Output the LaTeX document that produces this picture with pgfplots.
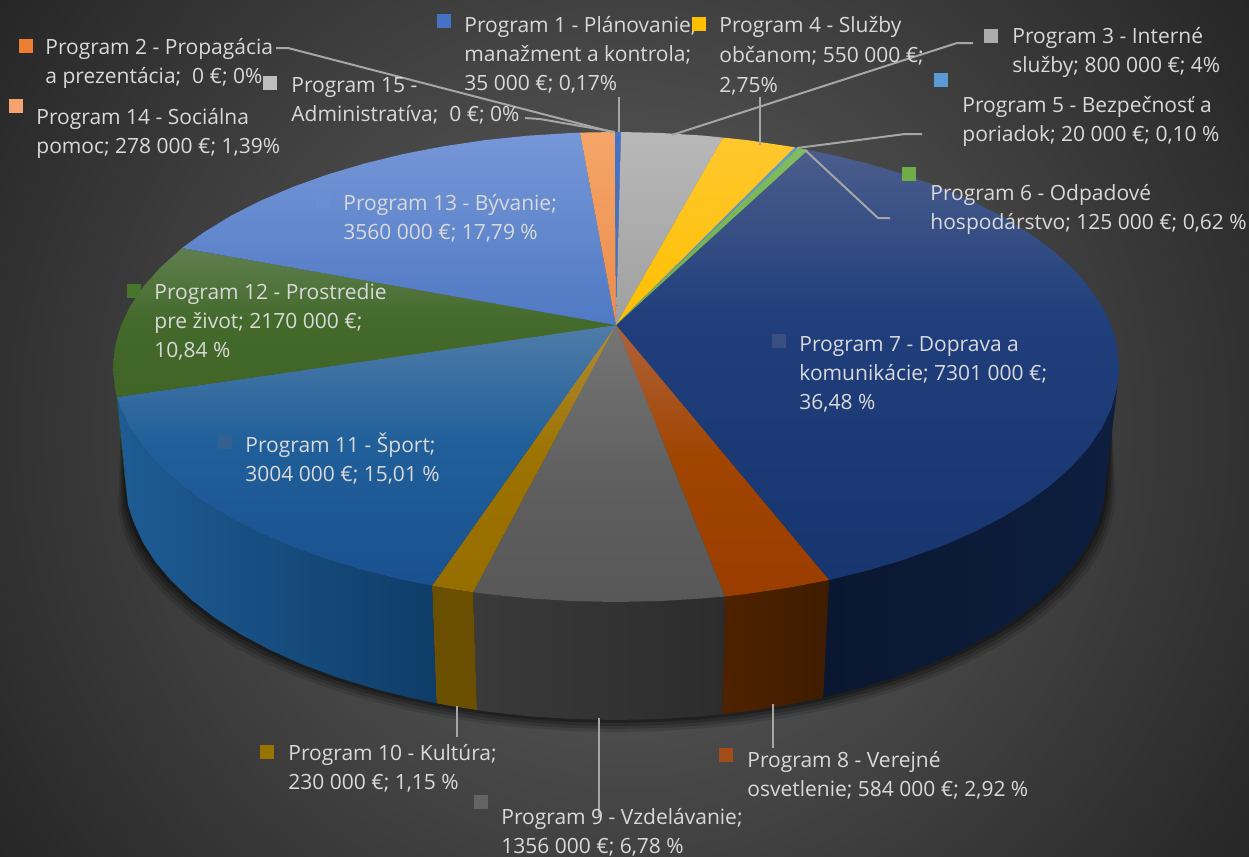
\documentclass[border=0pt]{standalone}
\usepackage{pgfplots}
\usepackage{pgfplotstable}
\usepackage{fontspec}
\setmainfont{Open Sans}
\pgfplotsset{compat=1.18}
\definecolor{bgin}{HTML}{646464}
\definecolor{bgout}{HTML}{262626}
\pgfdeclareradialshading{bgshade}{\pgfpoint{0bp}{0bp}}{color(0bp)=(bgin); color(25bp)=(bgout); color(50bp)=(bgout)}
\definecolor{HTMLp12side}{HTML}{2F4F1F}
\definecolor{HTMLp7sa}{HTML}{0A1730}
\definecolor{HTMLp7sb}{HTML}{0D1E3F}
\definecolor{HTMLp8sa}{HTML}{4E2200}
\definecolor{HTMLp8sb}{HTML}{3F1C00}
\definecolor{HTMLp9sa}{HTML}{3A3A3A}
\definecolor{HTMLp9sb}{HTML}{2C2C2C}
\definecolor{HTMLp10s}{HTML}{6B4F00}
\definecolor{HTMLp11sa}{HTML}{1E5C94}
\definecolor{HTMLp11sb}{HTML}{133F6C}
\definecolor{HTMLp11sc}{HTML}{0F3D69}
\definecolor{HTMLp7a}{HTML}{4B5D8C}
\definecolor{HTMLp7b}{HTML}{1F3E7B}
\definecolor{HTMLp7c}{HTML}{17356F}
\pgfdeclareverticalshading{sp7}{100bp}{color(0bp)=(HTMLp7c); color(25bp)=(HTMLp7c); color(55bp)=(HTMLp7b); color(75bp)=(HTMLp7a); color(100bp)=(HTMLp7a)}
\definecolor{HTMLp8a}{HTML}{B0623A}
\definecolor{HTMLp8m}{HTML}{A04400}
\definecolor{HTMLp8b}{HTML}{9A3D00}
\pgfdeclareverticalshading{sp8}{100bp}{color(0bp)=(HTMLp8b); color(25bp)=(HTMLp8b); color(50bp)=(HTMLp8m); color(75bp)=(HTMLp8a); color(100bp)=(HTMLp8a)}
\definecolor{HTMLp9a}{HTML}{757575}
\definecolor{HTMLp9m}{HTML}{5E5E5E}
\definecolor{HTMLp9b}{HTML}{585858}
\pgfdeclareverticalshading{sp9}{100bp}{color(0bp)=(HTMLp9b); color(25bp)=(HTMLp9b); color(45bp)=(HTMLp9m); color(75bp)=(HTMLp9a); color(100bp)=(HTMLp9a)}
\definecolor{HTMLp10a}{HTML}{B08C38}
\definecolor{HTMLp10m}{HTML}{9C7200}
\definecolor{HTMLp10b}{HTML}{966E00}
\pgfdeclareverticalshading{sp10}{100bp}{color(0bp)=(HTMLp10b); color(25bp)=(HTMLp10b); color(50bp)=(HTMLp10m); color(75bp)=(HTMLp10a); color(100bp)=(HTMLp10a)}
\definecolor{HTMLp11a}{HTML}{4F7CA8}
\definecolor{HTMLp11b}{HTML}{205F9A}
\definecolor{HTMLp11c}{HTML}{19518F}
\pgfdeclareverticalshading{sp11}{100bp}{color(0bp)=(HTMLp11c); color(25bp)=(HTMLp11c); color(52bp)=(HTMLp11b); color(75bp)=(HTMLp11a); color(100bp)=(HTMLp11a)}
\definecolor{HTMLp12a}{HTML}{5F7F4F}
\definecolor{HTMLp12m}{HTML}{43692B}
\definecolor{HTMLp12b}{HTML}{406526}
\pgfdeclareverticalshading{sp12}{100bp}{color(0bp)=(HTMLp12b); color(25bp)=(HTMLp12b); color(50bp)=(HTMLp12m); color(75bp)=(HTMLp12a); color(100bp)=(HTMLp12a)}
\definecolor{HTMLp13a}{HTML}{7697D8}
\definecolor{HTMLp13b}{HTML}{4F79C3}
\definecolor{HTMLp14a}{HTML}{F4A668}
\definecolor{HTMLp14b}{HTML}{ED8C4C}
\definecolor{HTMLp1}{HTML}{4472C4}
\definecolor{HTMLp3a}{HTML}{B8B8B8}
\definecolor{HTMLp3b}{HTML}{A0A0A0}
\definecolor{HTMLp4a}{HTML}{FFC72E}
\definecolor{HTMLp4b}{HTML}{FFC000}
\definecolor{HTMLp5}{HTML}{5B9BD5}
\definecolor{HTMLp6a}{HTML}{82BB62}
\definecolor{HTMLp6b}{HTML}{70AD47}
\definecolor{HTMLkp2}{HTML}{ED7D31}
\definecolor{HTMLkp15}{HTML}{BDBDBD}
\definecolor{HTMLkp14}{HTML}{F4A56F}
\definecolor{HTMLkp4}{HTML}{FFC000}
\definecolor{HTMLkp3}{HTML}{ACACAC}
\definecolor{HTMLkp5}{HTML}{5B9BD5}
\definecolor{HTMLkp6}{HTML}{70AD47}
\definecolor{HTMLkp13}{HTML}{6A90D4}
\definecolor{HTMLkp12}{HTML}{47752E}
\definecolor{HTMLkp7}{HTML}{3A4F80}
\definecolor{HTMLkp11}{HTML}{33608F}
\definecolor{HTMLkp10}{HTML}{997300}
\definecolor{HTMLkp9}{HTML}{636363}
\definecolor{HTMLkp8}{HTML}{A34C18}
\pgfplotstableread{
x y w
1112 430 0
1106 480 1
1104.1 500.9 1
1098.6 521.7 1
1089.3 542.1 1
1076.5 562.1 1
1060.1 581.4 1
1040.3 600 1
1017.4 617.7 1
991.4 634.3 1
962.5 649.7 1
931 663.9 1
897 676.6 1
861 687.8 1
823.1 697.5 1
783.6 705.5 1
742.8 711.8 1
701.1 716.4 1
658.7 719.1 1
616 720 1
573.3 719.1 1
530.9 716.4 1
489.2 711.8 1
448.4 705.5 1
408.9 697.5 1
371 687.8 1
335 676.6 1
301 663.9 1
269.5 649.7 1
240.6 634.3 1
214.6 617.7 1
191.7 600 1
171.9 581.4 1
155.5 562.1 1
142.7 542.1 1
133.4 521.7 1
127.9 500.9 1
120.5 430 0
}\rimtable
\newcommand{\shadowlayer}[3]{\addplot[draw=none,fill=black,fill opacity=#3] table[x expr=\thisrow{x}+(\thisrow{x}-616)*#1*\thisrow{w},y expr=\thisrow{y}+#2*\thisrow{w}]{\rimtable} -- cycle;}
\newcommand{\lab}[3]{\node[anchor=base west,inner sep=0pt,text=labc,font=\fontsize{10.5}{12}\selectfont] at (axis cs:#1,#2) {#3};}
\newcommand{\key}[3]{\addplot[only marks,mark=square*,mark size=3.3pt,color=#3] coordinates {(#1,#2)};}
\definecolor{labc}{HTML}{D9D9D9}
\definecolor{linec}{HTML}{A6A6A6}
\begin{document}
\begin{tikzpicture}
\path[use as bounding box,clip] (0,0) rectangle (624.5pt,428.5pt);
\begin{axis}[at={(0,0)},anchor=south west,scale only axis,width=624.5pt,height=428.5pt,
  xmin=0,xmax=1249,ymin=0,ymax=857,y dir=reverse,hide axis,clip=false]
% background
\addplot[draw=none,shading=bgshade] coordinates {(-132.5,-328.5)(1381.5,-328.5)(1381.5,1185.5)(-132.5,1185.5)(-132.5,-328.5)};
% shadow
\shadowlayer{0.020}{12}{.12}
\shadowlayer{0.015}{9}{.16}
\shadowlayer{0.010}{6}{.20}
\shadowlayer{0.005}{3}{.25}
% sides
\addplot[draw=none,fill=HTMLp12side] coordinates {(117,397)(114.5,380)(126,490)(128,505)(117,397)};
\addplot[draw=none,left color=HTMLp7sa,right color=HTMLp7sb] coordinates {(1118,383)(1117.1,387.5)(1111.4,407.8)(1101.9,427.8)(1088.7,447.4)(1071.9,466.3)(1051.6,484.5)(1028,501.8)(1001.3,518.1)(971.7,533.2)(939.3,547)(904.5,559.5)(867.5,570.5)(829,580)(823.1,697.5)(861,687.8)(897,676.6)(931,663.9)(962.5,649.7)(991.4,634.3)(1017.4,617.7)(1040.3,600)(1060.1,581.4)(1076.5,562.1)(1089.3,542.1)(1098.6,521.7)(1104.1,500.9)(1106,480)(1118,383)};
\addplot[draw=none,left color=HTMLp8sa,right color=HTMLp8sb] coordinates {(829,580)(788,587.8)(746.2,594)(725,596.5)(722,714)(742.8,711.8)(783.6,705.5)(823.1,697.5)(829,580)};
\addplot[draw=none,left color=HTMLp9sa,right color=HTMLp9sb] coordinates {(725,596.5)(703.3,598.4)(659.8,601.1)(616,602)(572.2,601.1)(528.7,598.4)(485.8,594)(473,592.3)(477,710)(489.2,711.8)(530.9,716.4)(573.3,719.1)(616,720)(658.7,719.1)(701.1,716.4)(722,714)(725,596.5)};
\addplot[draw=none,fill=HTMLp10s] coordinates {(473,592.3)(444,587.8)(432,585.7)(436.4,703.2)(448.4,705.5)(477,710)(473,592.3)};
\addplot[draw=none,left color=HTMLp11sa,middle color=HTMLp11sb,right color=HTMLp11sc] coordinates {(432,585.7)(403.4,580)(364.5,570.5)(327.5,559.5)(292.7,547)(260.3,533.2)(230.7,518.1)(204,501.8)(180.4,484.5)(160.1,466.3)(143.3,447.4)(130.1,427.8)(120.6,407.8)(117,397)(128,505)(133.4,521.7)(142.7,542.1)(155.5,562.1)(171.9,581.4)(191.7,600)(214.6,617.7)(240.6,634.3)(269.5,649.7)(301,663.9)(335,676.6)(371,687.8)(408.9,697.5)(436.4,703.2)(432,585.7)};
% top
\addplot[draw=none,shading=sp7] coordinates {(616,325)(808,150)(828.6,154)(867.5,163.5)(904.5,174.5)(939.3,187)(971.7,200.8)(1001.3,215.9)(1028,232.2)(1051.6,249.5)(1071.9,267.7)(1088.7,286.6)(1101.9,306.2)(1111.4,326.2)(1117.1,346.5)(1119,367)(1117.1,387.5)(1111.4,407.8)(1101.9,427.8)(1088.7,447.4)(1071.9,466.3)(1051.6,484.5)(1028,501.8)(1001.3,518.1)(971.7,533.2)(939.3,547)(904.5,559.5)(867.5,570.5)(829,580)(616,325)};
\addplot[draw=none,shading=sp8] coordinates {(616,325)(829,580)(788,587.8)(746.2,594)(725,596.5)(616,325)};
\addplot[draw=none,shading=sp9] coordinates {(616,325)(725,596.5)(703.3,598.4)(659.8,601.1)(616,602)(572.2,601.1)(528.7,598.4)(485.8,594)(473,592.3)(616,325)};
\addplot[draw=none,shading=sp10] coordinates {(616,325)(473,592.3)(444,587.8)(432,585.7)(616,325)};
\addplot[draw=none,shading=sp11] coordinates {(616,325)(432,585.7)(403.4,580)(364.5,570.5)(327.5,559.5)(292.7,547)(260.3,533.2)(230.7,518.1)(204,501.8)(180.4,484.5)(160.1,466.3)(143.3,447.4)(130.1,427.8)(120.6,407.8)(117,397)(616,325)};
\addplot[draw=none,shading=sp12] coordinates {(616,325)(117,397)(114.9,387.5)(113,367)(114.9,346.5)(120.6,326.2)(130.1,306.2)(143.3,286.6)(160.1,267.7)(182,248)(616,325)};
\addplot[draw=none,top color=HTMLp13a,bottom color=HTMLp13b] coordinates {(616,325)(182,248)(204,232.2)(230.7,215.9)(260.3,200.8)(292.7,187)(327.5,174.5)(364.5,163.5)(403.4,154)(444,146.2)(485.8,140)(528.7,135.6)(572.2,132.9)(580,132.6)(616,325)};
\addplot[draw=none,top color=HTMLp14a,bottom color=HTMLp14b] coordinates {(616,325)(580,132.6)(615,132)(616,325)};
\addplot[draw=none,fill=HTMLp1] coordinates {(616,325)(615,132)(621,132)(616,325)};
\addplot[draw=none,top color=HTMLp3a,bottom color=HTMLp3b] coordinates {(616,325)(621,132)(659.8,132.9)(703.3,135.6)(723,137.6)(616,325)};
\addplot[draw=none,top color=HTMLp4a,bottom color=HTMLp4b] coordinates {(616,325)(723,137.6)(746.2,140)(788,146.2)(795,147.4)(616,325)};
\addplot[draw=none,fill=HTMLp5] coordinates {(616,325)(795,147.4)(798,148)(616,325)};
\addplot[draw=none,top color=HTMLp6a,bottom color=HTMLp6b] coordinates {(616,325)(798,148)(808,150)(616,325)};
% leader lines
\addplot[linec,line width=1pt] coordinates {(276,48)(288,48)(612,132)};
\addplot[linec,line width=1pt] coordinates {(525,118)(540,119)(615,132)};
\addplot[linec,line width=1pt] coordinates {(619,97)(619,132)};
\addplot[linec,line width=1pt] coordinates {(973,43)(957,43)(672,135)};
\addplot[linec,line width=1pt] coordinates {(760,97)(760,145)};
\addplot[linec,line width=1pt] coordinates {(922,134)(905,134)(797,148)};
\addplot[linec,line width=1pt] coordinates {(890,218)(878,218)(805,150)};
\addplot[linec,line width=1pt] coordinates {(773,704)(773,748)};
\addplot[linec,line width=1pt] coordinates {(599,718)(599,816)};
\addplot[linec,line width=1pt] coordinates {(457,706)(457,737)};
% keys
\key{444}{21}{HTMLp1}
\key{26}{46}{HTMLkp2}
\key{270}{83}{HTMLkp15}
\key{16}{106}{HTMLkp14}
\key{699}{24}{HTMLkp4}
\key{991}{36}{HTMLkp3}
\key{941}{80}{HTMLkp5}
\key{909}{174}{HTMLkp6}
\key{323}{201}{HTMLkp13}
\key{134}{291}{HTMLkp12}
\key{779}{341}{HTMLkp7}
\key{225}{442}{HTMLkp11}
\key{267}{752}{HTMLkp10}
\key{481}{802}{HTMLkp9}
\key{726}{755}{HTMLkp8}
% labels
\lab{464}{32}{Program 1 - Plánovanie,}
\lab{464}{61}{manažment a kontrola;}
\lab{464}{90}{35 000 €; 0,17\%}
\lab{45}{54}{Program 2 - Propagácia}
\lab{45}{83}{a prezentácia;\ \ 0 €; 0\%}
\lab{291}{92}{Program 15 -}
\lab{291}{121}{Administratíva;\ \ 0 €; 0\%}
\lab{36}{124}{Program 14 - Sociálna}
\lab{36}{153}{pomoc; 278 000 €; 1,39\%}
\lab{719}{32}{Program 4 - Služby}
\lab{719}{62}{občanom; 550 000 €;}
\lab{719}{92}{2,75\%}
\lab{1012}{43}{Program 3 - Interné}
\lab{1012}{72}{služby; 800 000 €; 4\%}
\lab{962}{112}{Program 5 - Bezpečnosť a}
\lab{962}{141}{poriadok; 20 000 €; 0,10 \%}
\lab{930}{200}{Program 6 - Odpadové}
\lab{930}{229}{hospodárstvo; 125 000 €; 0,62 \%}
\lab{343}{210}{Program 13 - Bývanie;}
\lab{343}{239}{3560 000 €; 17,79 \%}
\lab{154}{299}{Program 12 - Prostredie}
\lab{154}{328}{pre život; 2170 000 €;}
\lab{154}{357}{10,84 \%}
\lab{799}{351}{Program 7 - Doprava a}
\lab{799}{380}{komunikácie; 7301 000 €;}
\lab{799}{409}{36,48 \%}
\lab{245}{452}{Program 11 - Šport;}
\lab{245}{481}{3004 000 €; 15,01 \%}
\lab{288}{760}{Program 10 - Kultúra;}
\lab{288}{789}{230 000 €; 1,15 \%}
\lab{501}{824}{Program 9 - Vzdelávanie;}
\lab{501}{853}{1356 000 €; 6,78 \%}
\lab{747}{767}{Program 8 - Verejné}
\lab{747}{796}{osvetlenie; 584 000 €; 2,92 \%}
\end{axis}
\end{tikzpicture}
\end{document}
